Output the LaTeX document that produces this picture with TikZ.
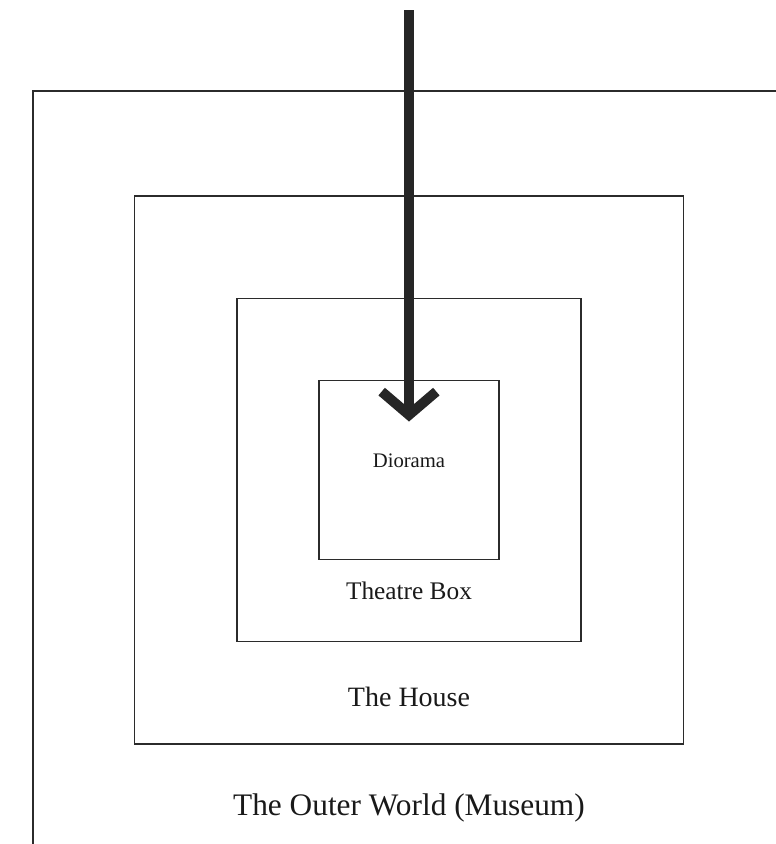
\documentclass[tikz,border=0pt]{standalone}
\usepackage{fontspec}
\setmainfont{Liberation Serif}
\usetikzlibrary{positioning, arrows.meta}
\definecolor{linecolor}{HTML}{2B2B2B}

\begin{document}
\begin{tikzpicture}[x=0.75pt, y=-0.75pt,
        % estilos
        box/.style={
            draw=linecolor,
            line width=1pt,
            rectangle,
            inner sep=0pt,
            outer sep=0pt
        },
        lbl/.style={anchor=base, inner sep=0pt, text=black!90},
        bigarrow/.style={
            draw=black!85,
            line width=7.5pt,
            -{Straight Barb[length=17.5pt, width=41pt]}
        }
    ]

        \useasboundingbox (0,0) rectangle (776,844);
        \clip (0,0) rectangle (776,844);

        % Nodes
        \coordinate (c) at (409,470);
        \node[box, minimum width=564pt, minimum height=568.5pt] (world) at (c) {};
        \node[box, minimum width=411.75pt, minimum height=411pt] (house) at (c) {};
        \node[box, minimum width=258pt, minimum height=257.25pt] (theatre) at (c) {};
        \node[box, minimum width=135pt, minimum height=134.25pt] (diorama) at (c) {};

        \node[lbl, font=\fontsize{15.5}{18}\selectfont] (dioramatext) at ([yshift=-65.25pt]diorama.north) {Diorama};
        \node[lbl, font=\fontsize{19}{22}\selectfont] (theatretext) at ([yshift=-30pt]diorama.south) {Theatre Box};
        \node[lbl, font=\fontsize{21}{25}\selectfont] (housetext) at ([yshift=-48.75pt]theatre.south) {The House};
        \node[lbl, font=\fontsize{23.5}{27}\selectfont] (worldtext) at ([yshift=-53.25pt]house.south) {The Outer World (Museum)};

        \coordinate (start) at (409,10);
        \coordinate (tip) at ([yshift=-30.75pt]diorama.north);

        % Lines
        \draw[bigarrow] (start) -- (tip);

    \end{tikzpicture}
\end{document}
